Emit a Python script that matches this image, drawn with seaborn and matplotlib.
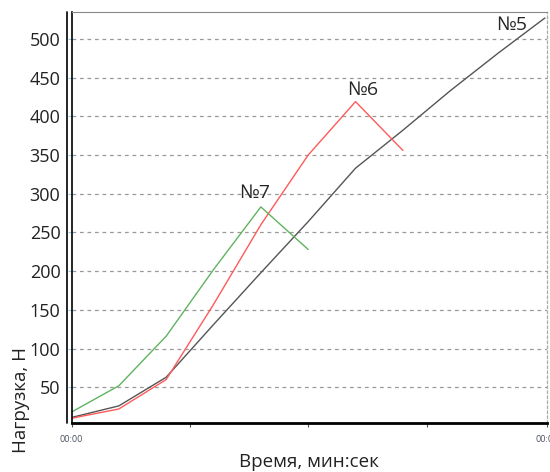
import pandas as pd
import seaborn as sns
import matplotlib
matplotlib.use('Agg')
import matplotlib.pyplot as plt

# readings, one every step (x axis is time in steps)
steps5 = [0, 1, 2, 3, 4, 5, 6, 7, 8, 9, 10]
load5 = [11, 26, 63, 131, 198, 264, 333, 382, 433, 481, 527]
steps6 = [0, 1, 2, 3, 4, 5, 6, 7]
load6 = [10, 22, 60, 157, 260, 350, 419, 356]
steps7 = [0, 1, 2, 3, 4, 5]
load7 = [18, 52, 116, 202, 283, 228]

sampleNames = ['№5', '№6', '№7']
sampleColors = {'№5': '#555555', '№6': '#ff5a5a', '№7': '#5fb35f'}
yTicks = [50, 100, 150, 200, 250, 300, 350, 400, 450, 500]
xTickLabels = ['00:00', '', '', '', '00:00']

frame = pd.DataFrame({
    'step': steps5 + steps6 + steps7,
    'load': load5 + load6 + load7,
    'sample': ['№5'] * len(steps5) + ['№6'] * len(steps6) + ['№7'] * len(steps7),
})

sns.set_style('white')
plt.rcParams['font.family'] = ['Open Sans', 'DejaVu Sans']

fig = plt.figure(figsize=(5.5, 4.72), dpi=100)
ax = fig.add_axes([0.13, 0.104, 0.865, 0.871])

ax.grid(False)
for y in yTicks:
    ax.axhline(y, color='#9a9a9a', lw=0.9, ls=(0, (3, 3)), zorder=0)

sns.lineplot(data=frame, x='step', y='load', hue='sample', palette=sampleColors,
             legend=False, lw=1.0, ax=ax, estimator=None, sort=False)

# labels at the end / peak of each curve
ax.text(9.3, 518, '№5', fontsize=14, ha='center', va='center')
ax.text(6.15, 434, '№6', fontsize=14, ha='center', va='center')
ax.text(3.87, 301, '№7', fontsize=14, ha='center', va='center')

ax.set_xlim(0, 10.05)
ax.set_ylim(4, 535)
ax.set_yticks(yTicks)
ax.set_yticklabels([str(v) for v in yTicks], fontsize=13, color='#222222')
ax.tick_params(axis='y', length=3, color='#8fd0f0', pad=5, left=True)
ax.set_xticks([0, 2.5, 5, 7.5, 10.05])
ax.set_xticklabels(xTickLabels, fontsize=6.5, color='#4a5060')
ax.tick_params(axis='x', length=3, color='#555555', pad=6, bottom=True)

ax.spines['bottom'].set_linewidth(2)
ax.spines['bottom'].set_color('black')
ax.spines['left'].set_linewidth(1.2)
ax.spines['left'].set_color('black')
ax.spines['top'].set_linewidth(0.8)
ax.spines['top'].set_color('#888888')
ax.spines['right'].set_linewidth(0.9)
ax.spines['right'].set_color('#aaaaaa')
ax.spines['right'].set_linestyle((0, (2, 2)))
# second line of the double left axis
ax.plot([-0.009, -0.009], [0, 1], transform=ax.transAxes, clip_on=False,
        color='black', lw=1.2)

ax.set_xlabel('Время, мин:сек', fontsize=13.5, color='#222222', labelpad=6)
ax.set_ylabel('Нагрузка, Н', fontsize=13.5, color='#222222')
ax.yaxis.set_label_coords(-0.107, 0.055)
ax.yaxis.label.set_va('center')

plt.savefig('out.png', dpi=100)
